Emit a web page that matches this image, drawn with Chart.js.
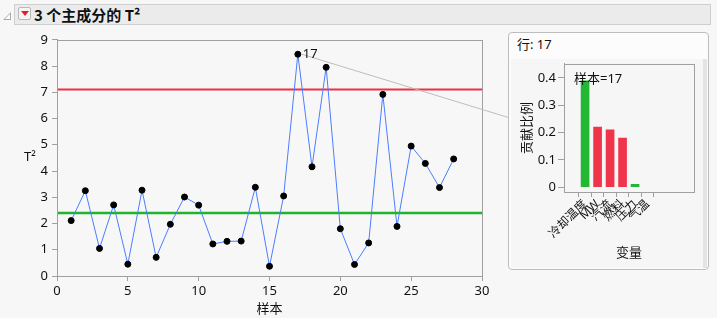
<!DOCTYPE html>
<html>
<head>
<meta charset="utf-8">
<script src="https://cdn.jsdelivr.net/npm/chart.js@4"></script>
<style>
  body{margin:0;background:#f7f7f7;width:717px;height:318px;overflow:hidden;position:relative;
    font-family:'Segoe UI','Noto Sans','Noto Sans CJK SC',sans-serif;}
  .bar{position:absolute;left:14px;top:4px;width:697px;height:21px;background:#ebebeb;border:1px solid #cfcfcf;box-sizing:border-box;}
  .tri{position:absolute;left:3px;top:12px;width:0;height:0;border-left:8px solid transparent;border-bottom:8px solid #a9a9a9;}
  .tri:after{content:'';position:absolute;left:-6px;top:2px;border-left:5px solid transparent;border-bottom:5px solid #fff;}
  .btn{position:absolute;left:18px;top:7px;width:13px;height:13px;background:#f4f4f4;border:1px solid #b8b8b8;border-radius:2px;box-sizing:border-box;}
  .btn:after{content:'';position:absolute;left:2px;top:3px;border-left:4px solid transparent;border-right:4px solid transparent;border-top:5px solid #e0202a;}
  .ttl{position:absolute;left:34px;top:4px;font:bold 15px 'Segoe UI','Noto Sans CJK SC',sans-serif;color:#111;line-height:21px;}
  #main{position:absolute;left:0;top:28px;}
  .panel{position:absolute;left:508px;top:32px;width:201px;height:238px;border:1px solid #bdbdbd;border-radius:4px;background:#fcfcfc;box-sizing:border-box;}
  .row{position:absolute;left:8px;top:1px;font-size:13px;color:#111;}
  .inner{position:absolute;left:2px;top:26px;width:194px;height:209px;background:#f6f6f6;}
  .scroll{position:absolute;left:194px;top:26px;width:4px;height:209px;background:#e4e4e4;}
  #inset{position:absolute;left:510px;top:54px;}
</style>
</head>
<body>
<div class="tri"></div>
<div class="bar"></div>
<div class="btn"></div>
<div class="ttl">3 个主成分的 T²</div>
<canvas id="main" width="510" height="290"></canvas>
<div class="panel"><div class="row">行: 17</div><div class="inner"></div><div class="scroll"></div></div>
<canvas id="inset" width="193" height="214"></canvas>
<script>
/* ---- dados ---- */
const samples = [1,2,3,4,5,6,7,8,9,10,11,12,13,14,15,16,17,18,19,20,21,22,23,24,25,26,27,28];
const t2Values = [2.11,3.25,1.05,2.71,0.45,3.27,0.71,1.97,3.01,2.70,1.22,1.32,1.33,3.38,0.37,3.05,8.45,4.16,7.95,1.80,0.44,1.26,6.92,1.89,4.95,4.29,3.37,4.46];
const ucl = 7.11;
const median = 2.40;
const xTicks = [0,5,10,15,20,25,30];
const yTicks = [0,1,2,3,4,5,6,7,8,9];
const selRow = 17;

const variables = ['冷却温度','MW','汽流','燃料','压力','气温'];
const contrib = [0.39,0.22,0.21,0.18,0.01,0.0];
const contribColor = ['#22b833','#f0344a','#f0344a','#f0344a','#22b833','#22b833'];
const contribTicks = [0,0.05,0.1,0.15,0.2,0.25,0.3,0.35,0.4,0.45];

const FONT = "'Segoe UI','Noto Sans','Noto Sans CJK SC',sans-serif";
Chart.defaults.font.family = FONT;
Chart.defaults.color = '#111';

/* moldura da área + textos extras */
const frame = {
  id:'frame',
  afterDraw(c, args, o){
    const a=c.chartArea, ctx=c.ctx;
    ctx.save();
    ctx.strokeStyle='#a0a0a0'; ctx.lineWidth=1;
    ctx.strokeRect(Math.round(a.left)+0.5, Math.round(a.top)+0.5, Math.round(a.right-a.left), Math.round(a.bottom-a.top));
    ctx.restore();
    if(o.draw) o.draw(c, ctx);
  }
};

/* ---- gráfico principal ---- */
new Chart(document.getElementById('main'),{
  type:'line',
  data:{
    datasets:[
      {data:samples.map((s,i)=>({x:s,y:t2Values[i]})), borderColor:'#4a7dff', borderWidth:1,
       pointRadius:3, pointBackgroundColor:'#000', pointBorderColor:'#000', tension:0, order:0},
      {data:[{x:0,y:ucl},{x:30,y:ucl}], borderColor:'#ee3046', borderWidth:2, pointRadius:0, order:1},
      {data:[{x:0,y:median},{x:30,y:median}], borderColor:'#1fb32e', borderWidth:2.5, pointRadius:0, order:1}
    ]
  },
  options:{
    animation:false, responsive:false, events:[],
    layout:{padding:{top:8,right:28,left:0,bottom:0}},
    plugins:{legend:{display:false}, tooltip:{enabled:false},
      frame:{draw(c,ctx){
        const xs=c.scales.x, ys=c.scales.y;
        ctx.save();
        ctx.font='13px '+FONT; ctx.fillStyle='#111'; ctx.textAlign='center'; ctx.textBaseline='middle';
        ctx.fillText('T²', 30, 157-28);
        // rótulo da linha + linha guia até o painel
        const px=xs.getPixelForValue(selRow), py=ys.getPixelForValue(t2Values[selRow-1]);
        ctx.strokeStyle='#bdbdbd'; ctx.lineWidth=1;
        ctx.beginPath(); ctx.moveTo(px+4,py); ctx.lineTo(510,118-28); ctx.stroke();
        ctx.textAlign='left';
        ctx.fillText(String(selRow), px+5, py);
        ctx.restore();
      }}
    },
    scales:{
      x:{type:'linear', min:0, max:30,
         afterBuildTicks(s){ s.ticks = xTicks.map(v=>({value:v})); },
         afterFit(s){ s.height=42; },
         grid:{drawOnChartArea:false, tickLength:5, color:'#a0a0a0'},
         border:{color:'#a0a0a0'},
         ticks:{font:{size:13}, padding:2, maxRotation:0, color:'#111'},
         title:{display:true, text:'样本', font:{size:13}, padding:{top:0,bottom:1}, color:'#111'}},
      y:{min:0, max:9,
         afterBuildTicks(s){ s.ticks = yTicks.map(v=>({value:v})); },
         afterFit(s){ s.width=57; },
         grid:{drawOnChartArea:false, tickLength:5, color:'#a0a0a0'},
         border:{color:'#a0a0a0'},
         ticks:{font:{size:13}, padding:4, color:'#111'}}
    }
  },
  plugins:[frame]
});

/* ---- gráfico de contribuição ---- */
new Chart(document.getElementById('inset'),{
  type:'bar',
  data:{
    datasets:[{data:variables.map((v,i)=>({x:i,y:contrib[i]})),
      backgroundColor:(ctx)=> contrib[ctx.dataIndex] > 0 ? contribColor[ctx.dataIndex] : 'rgba(0,0,0,0)',
      barThickness:8}]
  },
  options:{
    animation:false, responsive:false, events:[],
    layout:{padding:{top:0,right:9,left:0,bottom:0}},
    plugins:{legend:{display:false}, tooltip:{enabled:false},
      frame:{draw(c,ctx){
        const a=c.chartArea;
        ctx.save();
        ctx.font='13px '+FONT; ctx.fillStyle='#111'; ctx.textBaseline='middle';
        ctx.fillText('样本='+selRow, a.left+10, a.top+15);
        ctx.restore();
      }}
    },
    scales:{
      x:{type:'linear', min:-0.82, max:7.85,
         afterBuildTicks(s){ s.ticks = variables.map((v,i)=>({value:i})); },
         afterFit(s){ s.height=76; },
         grid:{drawOnChartArea:false, tickLength:5, color:'#a0a0a0'},
         border:{color:'#a0a0a0'},
         ticks:{font:{size:12}, padding:0, minRotation:45, maxRotation:45, autoSkip:false, color:'#111',
                callback:(v)=>variables[v] ?? ''},
         title:{display:true, text:'变量', font:{size:13}, padding:{top:0,bottom:7}, color:'#111'}},
      y:{min:-0.018, max:0.452,
         afterBuildTicks(s){ s.ticks = contribTicks.map(v=>({value:v})); },
         afterFit(s){ s.width=54; },
         grid:{drawOnChartArea:false, tickLength:6, color:'#a0a0a0'},
         border:{color:'#a0a0a0'},
         ticks:{font:{size:13}, padding:2, color:'#111',
                callback:(v)=>{ const r=Math.round(v*100); return r%10===0 ? String(r/100) : ''; }},
         title:{display:true, text:'贡献比例', font:{size:13}, padding:{top:9,bottom:0}, color:'#111'}}
    }
  },
  plugins:[frame]
});
</script>
</body>
</html>
